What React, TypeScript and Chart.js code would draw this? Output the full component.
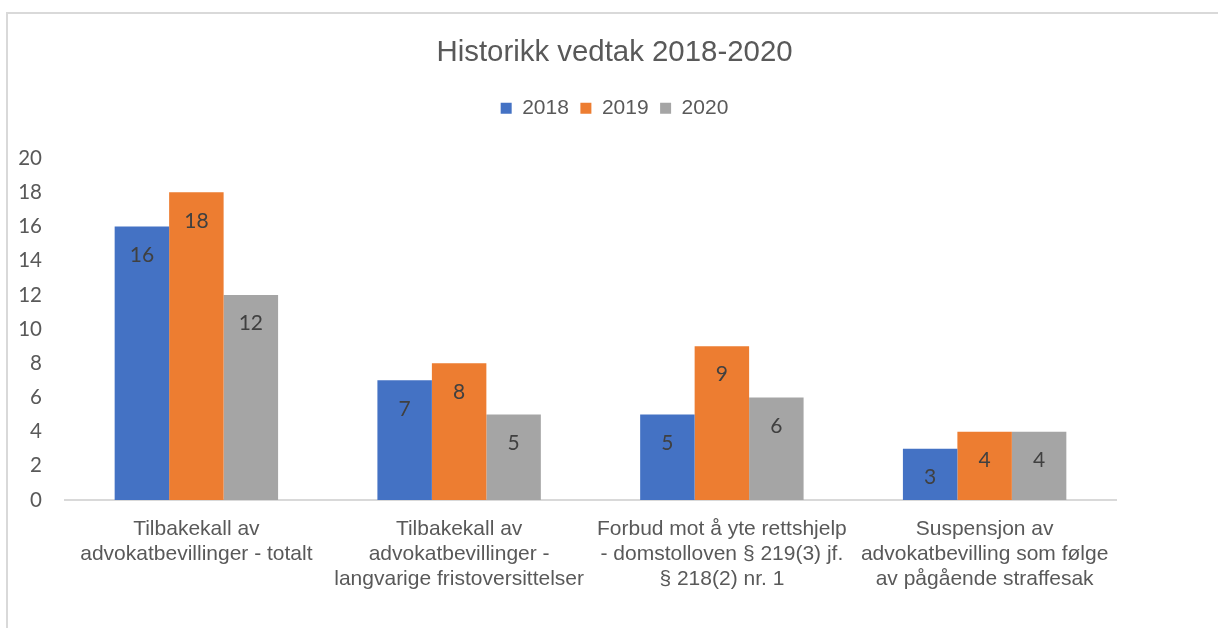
import React, { useEffect, useRef } from "react";
import { Chart, registerables } from "chart.js";

Chart.register(...registerables);

const categories: string[][] = [
  ["Tilbakekall av", "advokatbevillinger - totalt"],
  ["Tilbakekall av", "advokatbevillinger -", "langvarige fristoversittelser"],
  ["Forbud mot å yte rettshjelp", "- domstolloven § 219(3) jf.", "§ 218(2) nr. 1"],
  ["Suspensjon av", "advokatbevilling som følge", "av pågående straffesak"],
];
const seriesNames = ["2018", "2019", "2020"];
const values2018 = [16, 7, 5, 3];
const values2019 = [18, 8, 9, 4];
const values2020 = [12, 5, 6, 4];
const seriesColors = ["#4472C4", "#ED7D31", "#A5A5A5"];
const yTicks = [0, 2, 4, 6, 8, 10, 12, 14, 16, 18, 20];

const ARIAL = "'Liberation Sans', Arial, sans-serif";
const CAL = "Lato, 'Open Sans', sans-serif";

const dataLabels = {
  id: "dataLabels",
  afterDatasetsDraw(chart: any) {
    const ctx = chart.ctx;
    ctx.save();
    ctx.font = `21px ${CAL}`;
    ctx.fillStyle = "#404040";
    ctx.textAlign = "center";
    ctx.textBaseline = "middle";
    chart.data.datasets.forEach((ds: any, di: number) => {
      const meta = chart.getDatasetMeta(di);
      meta.data.forEach((bar: any, i: number) => {
        ctx.fillText(String(ds.data[i]), bar.x, bar.y + 28.5);
      });
    });
    ctx.restore();
  },
};

const legendSpacer = {
  id: "legendSpacer",
  beforeLayout(chart: any) {
    const lg = chart.legend;
    if (lg && !lg._spacerPatched) {
      const orig = lg.fit;
      lg.fit = function () {
        orig.call(this);
        this.height += 29.4;
      };
      lg._spacerPatched = true;
    }
  },
};

export default function App() {
  const ref = useRef<HTMLCanvasElement | null>(null);
  useEffect(() => {
    if (!ref.current) return;
    const all = [values2018, values2019, values2020];
    const chart = new Chart(ref.current, {
      type: "bar",
      data: {
        labels: categories,
        datasets: seriesNames.map((name, i) => ({
          label: name,
          data: all[i],
          backgroundColor: seriesColors[i],
          borderWidth: 0,
          categoryPercentage: 0.622,
          barPercentage: 1,
        })),
      },
      options: {
        animation: false,
        responsive: false,
        maintainAspectRatio: false,
        layout: { padding: { top: 0, left: 0, right: 0, bottom: 0 } },
        plugins: {
          title: {
            display: true,
            text: "Historikk vedtak 2018-2020",
            color: "#595959",
            font: { family: ARIAL, size: 29.4, weight: "normal", lineHeight: 1.2 },
            padding: { top: 21.4, bottom: 15.6 },
          },
          legend: {
            display: true,
            position: "top",
            labels: {
              color: "#595959",
              font: { family: ARIAL, size: 21 },
              boxWidth: 11,
              boxHeight: 11,
              padding: 11.5,
            },
          },
          tooltip: { enabled: false },
        },
        scales: {
          x: {
            grid: { display: false, drawTicks: false },
            border: { display: true, color: "#d9d9d9", width: 2 },
            ticks: {
              color: "#595959",
              font: { family: ARIAL, size: 21, lineHeight: 1.17 },
              padding: 17.4,
              maxRotation: 0,
              minRotation: 0,
              autoSkip: false,
            },
            afterFit(scale: any) {
              scale.height = 128;
            },
          },
          y: {
            min: 0,
            max: 20,
            grid: { display: false, drawTicks: false },
            border: { display: false },
            afterBuildTicks(scale: any) {
              scale.ticks = yTicks.map((v) => ({ value: v }));
            },
            ticks: {
              color: "#595959",
              font: { family: CAL, size: 20.5 },
              padding: 23,
            },
            afterFit(scale: any) {
              scale.width = 57;
            },
          },
          yRight: {
            position: "right",
            display: true,
            min: 0,
            max: 20,
            grid: { display: false, drawTicks: false },
            border: { display: false },
            ticks: { display: false },
            afterFit(scale: any) {
              scale.width = 105;
            },
          },
        },
      },
      plugins: [dataLabels, legendSpacer],
    });
    return () => chart.destroy();
  }, []);

  return (
    <div
      style={{
        position: "fixed",
        left: 0,
        top: 0,
        width: 1218,
        height: 628,
        overflow: "hidden",
        background: "#ffffff",
      }}
    >
      <div
        style={{
          position: "absolute",
          left: 6,
          top: 12,
          width: 1300,
          height: 700,
          border: "2px solid #d9d9d9",
          boxSizing: "border-box",
        }}
      />
      <canvas
        ref={ref}
        width={1213}
        height={614}
        style={{ position: "absolute", left: 8, top: 14, width: 1213, height: 614 }}
      />
    </div>
  );
}
